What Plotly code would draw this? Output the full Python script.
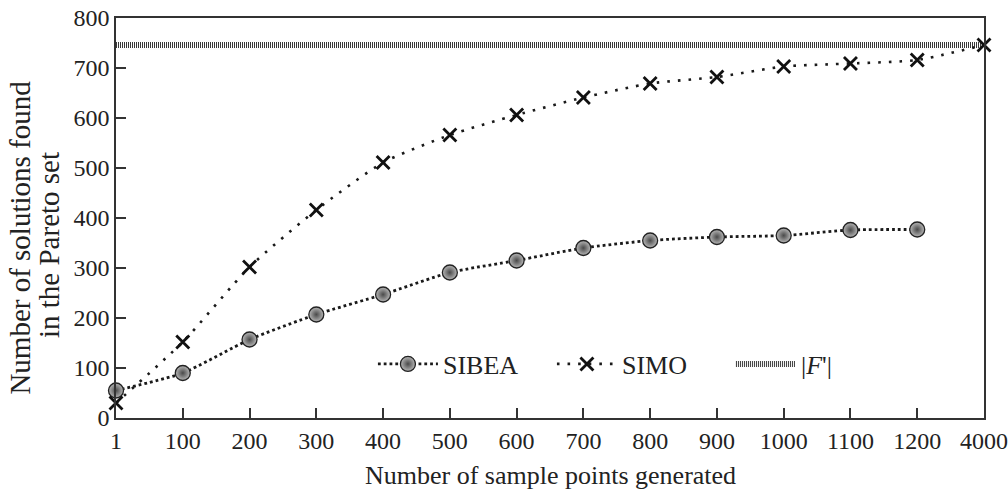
import plotly.graph_objects as go

x_labels = ["1", "100", "200", "300", "400", "500", "600", "700", "800", "900", "1000", "1100", "1200", "4000"]
sibea = [55, 90, 157, 207, 247, 291, 315, 340, 355, 362, 365, 376, 377]
simo = [30, 152, 302, 416, 511, 566, 606, 641, 669, 682, 703, 709, 716, 746]
f_size = 746
y_title_lines = ["Number of solutions found", "in the Pareto set"]
x_title = "Number of sample points generated"

pos = list(range(len(x_labels)))
font = "Liberation Serif, Times New Roman, serif"

fig = go.Figure()
fig.add_trace(go.Scatter(
    x=[pos[0], pos[-1]], y=[f_size, f_size], name="|<i>F</i>'|", mode="lines",
    line=dict(color="#3a3a3a", width=6, dash="1px,1px"), legendrank=3,
))
fig.add_trace(go.Scatter(
    x=pos[:len(sibea)], y=sibea, name="SIBEA", mode="lines+markers",
    line=dict(color="#1a1a1a", width=2.8, dash="2.8px,3px", shape="spline", smoothing=0.6),
    marker=dict(symbol="circle", size=15, color="#b8b8b8",
                gradient=dict(type="radial", color="#4a4a4a"),
                line=dict(color="#222", width=1.3)),
    legendrank=1, cliponaxis=False,
))
fig.add_trace(go.Scatter(
    x=pos, y=simo, name="SIMO", mode="lines+markers",
    line=dict(color="#1a1a1a", width=2.6, dash="2.6px,8px", shape="spline", smoothing=0.6),
    marker=dict(symbol="x-thin", size=13, line=dict(color="#111", width=2.8)),
    legendrank=2, cliponaxis=False,
))

annotations = [
    dict(text=y_title_lines[0], xref="paper", yref="paper", x=-0.1106, y=0.451,
         xanchor="center", yanchor="middle", textangle=-90, showarrow=False,
         font=dict(size=29)),
    dict(text=y_title_lines[1], xref="paper", yref="paper", x=-0.0772, y=0.4325,
         xanchor="center", yanchor="middle", textangle=-90, showarrow=False,
         font=dict(size=29)),
    dict(text=x_title, xref="paper", yref="paper", x=0.5, y=-0.1425,
         xanchor="center", yanchor="middle", showarrow=False,
         font=dict(size=26)),
]

fig.update_layout(
    width=1008, height=494,
    margin=dict(l=116, r=24, t=18, b=76, autoexpand=False),
    paper_bgcolor="white", plot_bgcolor="white",
    font=dict(family=font, size=24, color="#222"),
    legend=dict(orientation="h", x=0.296, y=0.135, xanchor="left", yanchor="middle",
                font=dict(size=26), bgcolor="rgba(0,0,0,0)", traceorder="normal",
                itemwidth=60, entrywidth=104, entrywidthmode="pixels"),
    showlegend=True,
    annotations=annotations,
    xaxis=dict(range=[0, 13], tickvals=pos, ticktext=x_labels, ticks="inside",
               ticklen=10, tickwidth=1.5, tickcolor="#333", automargin=False,
               showline=True, linecolor="#333", linewidth=1.5, mirror=True,
               showgrid=False, zeroline=False),
    yaxis=dict(range=[0, 800], tickvals=list(range(0, 801, 100)), ticks="inside",
               ticklen=10, tickwidth=1.5, tickcolor="#333", automargin=False,
               showline=True, linecolor="#333", linewidth=1.5, mirror=True,
               showgrid=False, zeroline=False),
)

fig.write_html("out.html")
